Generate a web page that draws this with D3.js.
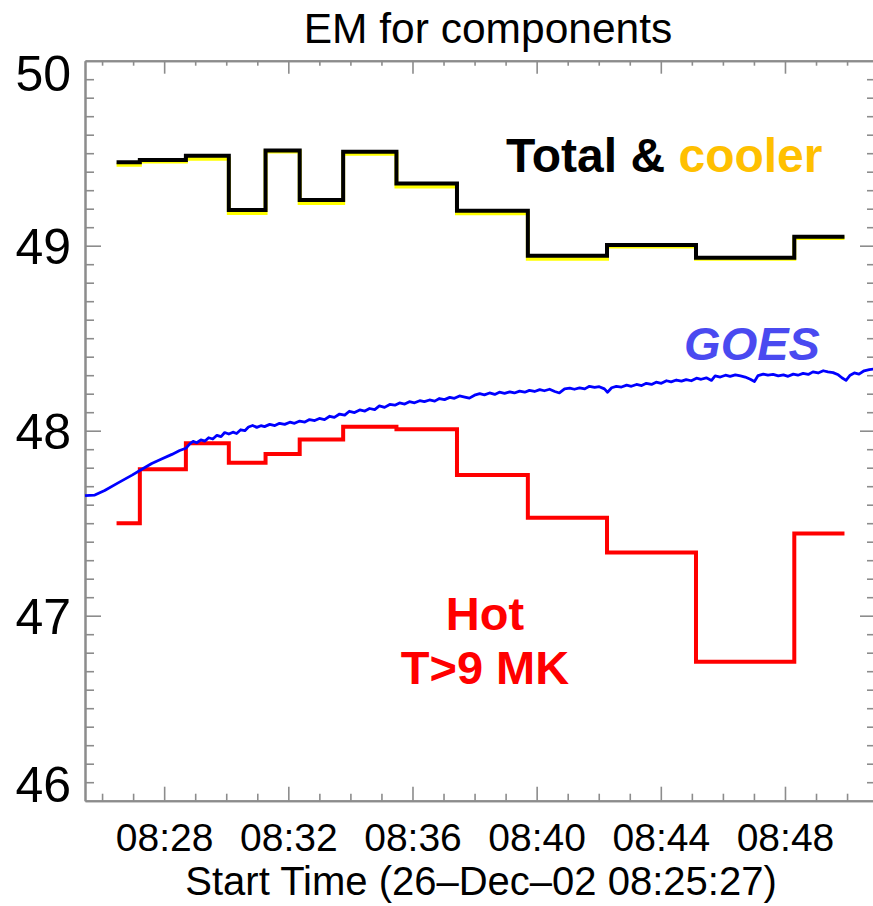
<!DOCTYPE html>
<html><head><meta charset="utf-8">
<script src="https://cdn.jsdelivr.net/npm/d3@7"></script>
<style>body{margin:0;background:#fff}svg{display:block}</style>
</head><body>
<script>
// ---- data ----
const title = "EM for components";
const xLabel = "Start Time (26\u2013Dec\u201302 08:25:27)";
const startTime = "08:25:27";
const endTime = "08:50:54";
const binStarts = ["08:26:28","08:27:13","08:28:42","08:30:05","08:31:16","08:32:22","08:33:46","08:35:29","08:37:26","08:39:43","08:42:16","08:45:08","08:48:18"];
const binEnd = "08:49:55";
const totalEM  = [49.451, 49.463, 49.486, 49.193, 49.514, 49.247, 49.508, 49.336, 49.189, 48.946, 49.004, 48.935, 49.049];
const coolerEM = [49.437, 49.455, 49.470, 49.177, 49.509, 49.231, 49.497, 49.320, 49.175, 48.930, 48.996, 48.930, 49.041];
const hotEM    = [47.500, 47.791, 47.932, 47.827, 47.874, 47.953, 48.022, 48.008, 47.761, 47.530, 47.341, 46.751, 47.445];
// GOES: [seconds after start, log EM]
const goes = [
[0,47.649],[19,47.652],[38,47.677],[64,47.718],[91,47.760],[110,47.792],[129,47.823],[148,47.847],[168,47.872],[183,47.893],
[195,47.905],[203,47.930],[209,47.942],[216,47.935],[224,47.950],[232,47.944],[239,47.962],[247,47.955],[255,47.975],[263,47.968],
[270,47.990],[278,47.982],[286,47.992],[293,47.985],[301,48.005],[309,48.000],[316,48.020],[324,48.028],[332,48.018],[340,48.027],
[347,48.022],[357,48.034],[367,48.028],[376,48.040],[386,48.034],[396,48.046],[405,48.040],[415,48.052],[425,48.047],[434,48.060],
[444,48.055],[453,48.066],[463,48.060],[473,48.078],[482,48.072],[492,48.090],[502,48.084],[511,48.105],[521,48.098],[531,48.112],
[541,48.106],[550,48.120],[560,48.114],[569,48.134],[579,48.126],[589,48.142],[599,48.138],[608,48.150],[618,48.144],[627,48.157],
[637,48.151],[647,48.162],[656,48.157],[666,48.166],[676,48.160],[685,48.174],[695,48.168],[705,48.180],[714,48.175],[724,48.188],
[734,48.182],[743,48.176],[753,48.192],[763,48.200],[772,48.194],[782,48.204],[792,48.196],[801,48.208],[811,48.202],[821,48.210],
[830,48.204],[840,48.214],[850,48.208],[859,48.218],[869,48.212],[879,48.222],[888,48.216],[898,48.224],[908,48.212],[917,48.204],
[927,48.226],[937,48.230],[946,48.224],[956,48.232],[966,48.226],[975,48.240],[985,48.234],[994,48.238],[1004,48.226],[1010,48.208],
[1018,48.232],[1027,48.240],[1037,48.236],[1047,48.246],[1056,48.240],[1066,48.250],[1076,48.244],[1085,48.256],[1095,48.250],[1104,48.262],
[1114,48.256],[1124,48.270],[1133,48.264],[1143,48.274],[1153,48.268],[1162,48.276],[1172,48.270],[1182,48.284],[1191,48.278],[1201,48.286],
[1211,48.272],[1218,48.296],[1228,48.290],[1238,48.300],[1247,48.294],[1257,48.302],[1267,48.296],[1276,48.290],[1286,48.278],[1294,48.266],
[1301,48.298],[1311,48.306],[1320,48.300],[1330,48.304],[1340,48.296],[1350,48.302],[1359,48.294],[1369,48.306],[1378,48.300],[1388,48.310],
[1398,48.304],[1407,48.318],[1417,48.312],[1427,48.324],[1436,48.318],[1446,48.314],[1456,48.302],[1463,48.286],[1471,48.272],[1479,48.300],
[1487,48.312],[1496,48.306],[1506,48.324],[1516,48.330],[1525,48.334]
];
const yDomain = [46, 50];
const yMajor = [46, 47, 48, 49, 50];

// ---- layout ----
const W = 873, H = 906;
const L = 85, R = 875, T = 60.7, B = 800.7;
const font = "'Liberation Sans', Arial, Helvetica, sans-serif";
const parse = d3.utcParse("%H:%M:%S");
const t0 = parse(startTime);

const svg = d3.select("body").append("svg").attr("width", W).attr("height", H)
  .style("font-family", font);

const x = d3.scaleUtc().domain([t0, parse(endTime)]).range([L, R]);
const y = d3.scaleLinear().domain(yDomain).range([B, T]);

const majorX = x.ticks(d3.utcMinute.every(4));
const minorX = x.ticks(d3.utcMinute.every(1)).filter(d => d.getUTCMinutes() % 4 !== 0);
const minorY = y.ticks(40).filter(v => Math.abs(v - Math.round(v)) > 1e-6);
const axisColor = "#8c8c8c";

function styleAxis(g) {
  g.selectAll("path.domain").attr("stroke", axisColor).attr("stroke-width", 2);
  g.selectAll(".tick line").attr("stroke", axisColor).attr("stroke-width", 1.6);
}

// bottom axis
const gxB = svg.append("g").attr("transform", `translate(0,${B})`)
  .call(d3.axisBottom(x).tickValues(majorX).tickSizeInner(-14).tickSizeOuter(0)
    .tickFormat(d3.utcFormat("%H:%M")));
styleAxis(gxB);
gxB.selectAll("text").attr("y", 50).attr("dy", 0).attr("fill", "#000")
  .style("font-size", "39px").style("font-family", font);
svg.append("g").attr("transform", `translate(0,${B})`)
  .call(d3.axisBottom(x).tickValues(minorX).tickSizeInner(-7).tickSizeOuter(0).tickFormat(""))
  .call(styleAxis);

// top axis
svg.append("g").attr("transform", `translate(0,${T})`)
  .call(d3.axisTop(x).tickValues(majorX).tickSizeInner(-13).tickSizeOuter(0).tickFormat(""))
  .call(styleAxis);
svg.append("g").attr("transform", `translate(0,${T})`)
  .call(d3.axisTop(x).tickValues(minorX).tickSizeInner(-5).tickSizeOuter(0).tickFormat(""))
  .call(styleAxis);

// left axis
const gyL = svg.append("g").attr("transform", `translate(${L},0)`)
  .call(d3.axisLeft(y).tickValues(yMajor).tickSizeInner(-16).tickSizeOuter(0).tickPadding(14)
    .tickFormat(d3.format("d")));
styleAxis(gyL);
gyL.selectAll(".tick line").filter(d => d === 50 || d === 46).attr("x2", 0);
gyL.selectAll("text").attr("fill", "#000").style("font-size", "50px").style("font-family", font)
  .attr("dy", null)
  .attr("y", d => d === 50 ? 30.2 : (d === 46 ? 1.2 : 18));
svg.append("g").attr("transform", `translate(${L},0)`)
  .call(d3.axisLeft(y).tickValues(minorY).tickSizeInner(-9).tickSizeOuter(0).tickFormat(""))
  .call(styleAxis);

// right axis
svg.append("g").attr("transform", `translate(${R},0)`)
  .call(d3.axisRight(y).tickValues(yMajor.filter(v => v > 46 && v < 50)).tickSizeInner(-15).tickSizeOuter(0).tickFormat(""))
  .call(styleAxis);
svg.append("g").attr("transform", `translate(${R},0)`)
  .call(d3.axisRight(y).tickValues(minorY).tickSizeInner(-8).tickSizeOuter(0).tickFormat(""))
  .call(styleAxis);

// ---- series ----
function stepPoints(vals) {
  const pts = binStarts.map((s, i) => [parse(s), vals[i]]);
  pts.push([parse(binEnd), vals[vals.length - 1]]);
  return pts;
}
const stepLine = d3.line().x(d => x(d[0])).y(d => y(d[1])).curve(d3.curveStepAfter);

svg.append("path").attr("d", stepLine(stepPoints(coolerEM)))
  .attr("fill", "none").attr("stroke", "#ffff00").attr("stroke-width", 4);
svg.append("path").attr("d", stepLine(stepPoints(totalEM)))
  .attr("fill", "none").attr("stroke", "#000").attr("stroke-width", 4);
svg.append("path").attr("d", stepLine(stepPoints(hotEM)))
  .attr("fill", "none").attr("stroke", "#ff0000").attr("stroke-width", 4);

const goesLine = d3.line()
  .x(d => x(new Date(t0.getTime() + d[0] * 1000)))
  .y(d => y(d[1]));
svg.append("path").attr("d", goesLine(goes))
  .attr("fill", "none").attr("stroke", "#0000ff").attr("stroke-width", 2.8)
  .attr("stroke-linejoin", "round");

// ---- text ----
svg.append("text").attr("x", 488).attr("y", 43).attr("text-anchor", "middle")
  .style("font-size", "42.5px").attr("fill", "#000").text(title);
svg.append("text").attr("x", 481).attr("y", 895).attr("text-anchor", "middle")
  .style("font-size", "40px").attr("fill", "#000").text(xLabel);

const tc = svg.append("text").attr("x", 506).attr("y", 172)
  .style("font-size", "48px").style("font-weight", "bold");
tc.append("tspan").attr("fill", "#000").text("Total & ");
tc.append("tspan").attr("fill", "#ffc000").text("cooler");

svg.append("text").attr("x", 752).attr("y", 360).attr("text-anchor", "middle")
  .style("font-size", "47px").style("font-weight", "bold").style("font-style", "italic")
  .attr("fill", "#4a4af0").text("GOES");

svg.append("text").attr("x", 485).attr("y", 630).attr("text-anchor", "middle")
  .style("font-size", "47px").style("font-weight", "bold").attr("fill", "#ff0000").text("Hot");
svg.append("text").attr("x", 485).attr("y", 684).attr("text-anchor", "middle")
  .style("font-size", "47px").style("font-weight", "bold").attr("fill", "#ff0000").text("T>9 MK");
</script>
</body></html>
